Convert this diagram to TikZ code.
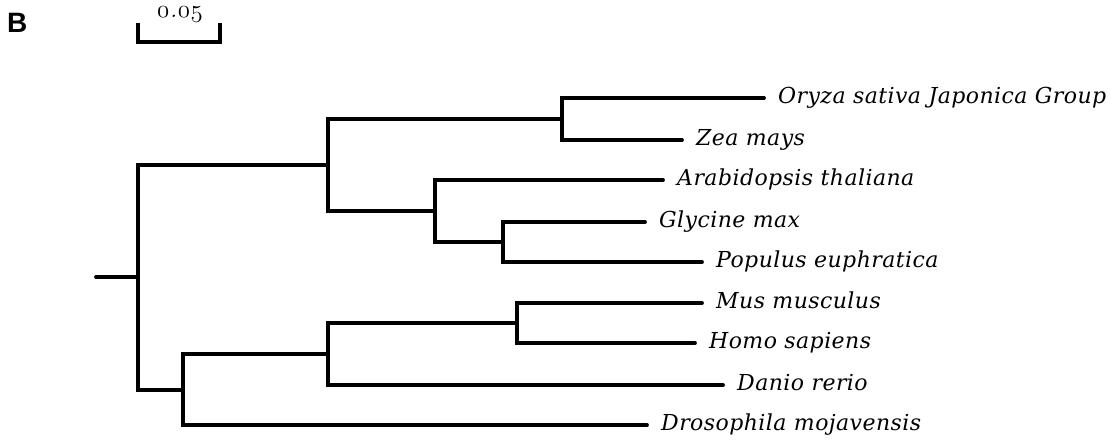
\documentclass[tikz,border=0pt]{standalone}
\usepackage{fontspec}
\newfontfamily\labfont{DejaVu Serif}[LetterSpace=2]
\newfontfamily\bfsans{Liberation Sans}
\newcommand{\osn}[1]{{\usefont{OML}{cmm}{m}{it}#1}}
\begin{document}
\begin{tikzpicture}[x=1pt,y=-1pt,
  branch/.style={line width=3.8pt,line cap=round,line join=miter},
  leaf/.style={anchor=base west,inner sep=0pt,font=\labfont\itshape\fontsize{22}{26}\selectfont}]
\useasboundingbox (0,0) rectangle (1111,440);
% panel letter
\node[anchor=base west,inner sep=0pt,font=\bfsans\bfseries\fontsize{28}{32}\selectfont] (B) at (7,32) {B};
% scale bar
\coordinate (s1) at (138,23); \coordinate (s2) at (220,23);
\draw[branch,line cap=butt] (s1) -- ++(0,19) -| (s2);
\node[anchor=base,inner sep=0pt,font=\fontsize{24.88}{28}\selectfont] (sl) at (180,17.5) {\osn{0}\kern0.5pt\textit{.}\kern0.5pt\osn{0}\kern0.5pt\osn{5}};
% internal nodes
\coordinate (r0) at (96,277);
\coordinate (root) at (138,277);
\coordinate (plant) at (328,165);
\coordinate (mono) at (562,119);
\coordinate (dicot) at (435,211);
\coordinate (gp) at (503,242);
\coordinate (animal) at (183,390);
\coordinate (vert) at (328,354);
\coordinate (mammal) at (517,323);
% leaf tips
\coordinate (oryza) at (764,98);
\coordinate (zea) at (682,140);
\coordinate (arab) at (663,180);
\coordinate (gly) at (645,222);
\coordinate (pop) at (702,262);
\coordinate (mus) at (702,303);
\coordinate (homo) at (695,343);
\coordinate (danio) at (723,385);
\coordinate (droso) at (647,425);
% labels
\node[leaf] (Loryza) at ([xshift=14pt,yshift=-5.5pt]oryza) {Oryza sativa Japonica Group};
\node[leaf] (Lzea) at ([xshift=14pt,yshift=-5.5pt]zea) {Zea mays};
\node[leaf] (Larab) at ([xshift=14pt,yshift=-5.5pt]arab) {Arabidopsis thaliana};
\node[leaf] (Lgly) at ([xshift=14pt,yshift=-5.5pt]gly) {Glycine max};
\node[leaf] (Lpop) at ([xshift=14pt,yshift=-5.5pt]pop) {Populus euphratica};
\node[leaf] (Lmus) at ([xshift=14pt,yshift=-5.5pt]mus) {Mus musculus};
\node[leaf] (Lhomo) at ([xshift=14pt,yshift=-5.5pt]homo) {Homo sapiens};
\node[leaf] (Ldanio) at ([xshift=14pt,yshift=-5.5pt]danio) {Danio rerio};
\node[leaf] (Ldroso) at ([xshift=14pt,yshift=-5.5pt]droso) {Drosophila mojavensis};
% branches
\draw[branch] (r0) -- (root);
\draw[branch] (root) |- (plant);
\draw[branch] (root) |- (animal);
\draw[branch] (plant) |- (mono);
\draw[branch] (plant) |- (dicot);
\draw[branch] (mono) |- (oryza);
\draw[branch] (mono) |- (zea);
\draw[branch] (dicot) |- (arab);
\draw[branch] (dicot) |- (gp);
\draw[branch] (gp) |- (gly);
\draw[branch] (gp) |- (pop);
\draw[branch] (animal) |- (vert);
\draw[branch] (animal) |- (droso);
\draw[branch] (vert) |- (mammal);
\draw[branch] (vert) |- (danio);
\draw[branch] (mammal) |- (mus);
\draw[branch] (mammal) |- (homo);
\end{tikzpicture}
\end{document}
